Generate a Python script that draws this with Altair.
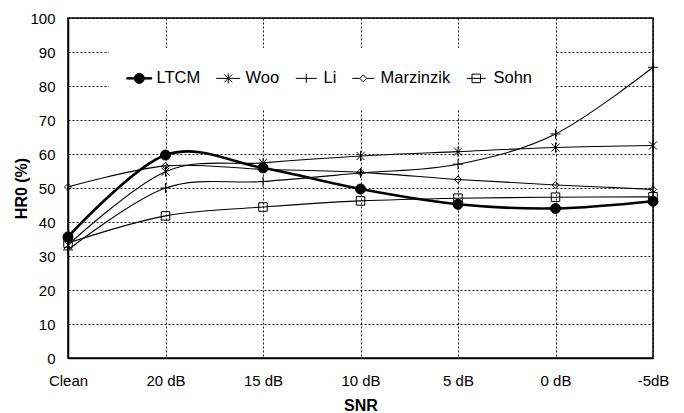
import altair as alt
import pandas as pd

categories = ["Clean", "20 dB", "15 dB", "10 dB", "5 dB", "0 dB", "-5dB"]
series_names = ["LTCM", "Woo", "Li", "Marzinzik", "Sohn"]
ltcm = [35.6, 59.7, 55.9, 49.7, 45.2, 44.0, 46.1]
woo = [33.2, 54.8, 57.4, 59.4, 60.7, 61.9, 62.5]
li = [31.8, 50.0, 51.9, 54.4, 57.0, 65.9, 85.5]
marzinzik = [50.3, 56.5, 55.5, 54.6, 52.5, 50.9, 49.6]
sohn = [33.8, 41.8, 44.4, 46.2, 47.0, 47.3, 47.4]
y_ticks = list(range(0, 101, 10))

values = {"LTCM": ltcm, "Woo": woo, "Li": li, "Marzinzik": marzinzik, "Sohn": sohn}
rows = []
for s in series_names:
    for c, v in zip(categories, values[s]):
        rows.append({"snr": c, "hr0": v, "series": s})
df = pd.DataFrame(rows)

# marker paths (unit = sqrt(size)/2 px)
circle = "M1,0A1,1 0 1 1 -1,0A1,1 0 1 1 1,0Z"
star = "M-0.8,-0.8L0.8,0.8M-0.8,0.8L0.8,-0.8M0,-1L0,1"
plus = "M-1,0L1,0M0,-1L0,1"
diamond = "M0,-0.7L0.7,0L0,0.7L-0.7,0Z"
square = "M-0.85,-0.85H0.85V0.85H-0.85Z"
marker_paths = [circle, star, plus, diamond, square]

# legend symbols: marker with a line segment through it
leg_ltcm = "M-2.5,-0.14H2.5V0.14H-2.5Z" + circle
leg_woo = "M-2.4,0L2.4,0" + star
leg_li = "M-2.1,0L2.1,0M0,-0.9L0,0.9"
leg_marz = "M-2.2,0L-0.7,0M0.7,0L2.2,0" + diamond
leg_sohn = "M-1.9,0L1.9,0" + square
legend_paths = [leg_ltcm, leg_woo, leg_li, leg_marz, leg_sohn]

fills = ["black", "transparent", "transparent", "transparent", "transparent"]
strokes = ["black"] * 5

x_enc = alt.X("snr:N", sort=categories,
              scale=alt.Scale(type="point", padding=0, domain=categories),
              axis=alt.Axis(title="SNR", labelAngle=0, grid=True, ticks=False,
                            labelPadding=15, titlePadding=9))
y_enc = alt.Y("hr0:Q", scale=alt.Scale(domain=[0, 100], nice=False),
              axis=alt.Axis(title="HR0 (%)", values=y_ticks, grid=True, ticks=False,
                            labelPadding=13, titlePadding=0))

lines = alt.Chart(df).mark_line(interpolate="cardinal", tension=0, color="black").encode(
    x=x_enc, y=y_enc,
    detail="series:N",
    strokeWidth=alt.condition(alt.datum.series == "LTCM", alt.value(2.6), alt.value(1.1)),
)

points = alt.Chart(df).mark_point(filled=True, strokeWidth=1, size=100, opacity=1).encode(
    x=x_enc, y=y_enc,
    shape=alt.Shape("series:N", scale=alt.Scale(domain=series_names, range=marker_paths), legend=None),
    fill=alt.Fill("series:N", scale=alt.Scale(domain=series_names, range=fills), legend=None),
    stroke=alt.Stroke("series:N", scale=alt.Scale(domain=series_names, range=strokes), legend=None),
)

leg = alt.Legend(title=None, orient="none", direction="horizontal",
                 legendX=41, legendY=30, padding=22,
                 fillColor="white", labelFontSize=16.5,
                 labelFont="Liberation Sans", labelColor="black",
                 labelOffset=9, columnPadding=13,
                 symbolSize=100, symbolStrokeWidth=1)

legend_layer = alt.Chart(df).transform_filter(alt.datum.hr0 < -1000).mark_point(
    filled=True, strokeWidth=1, size=100, opacity=1).encode(
    x=x_enc, y=y_enc,
    shape=alt.Shape("series:N", scale=alt.Scale(domain=series_names, range=legend_paths), legend=leg),
    fill=alt.Fill("series:N", scale=alt.Scale(domain=series_names, range=fills), legend=leg),
    stroke=alt.Stroke("series:N", scale=alt.Scale(domain=series_names, range=strokes), legend=leg),
)

chart = alt.layer(lines, points, legend_layer).resolve_scale(
    shape="independent", fill="independent", stroke="independent"
).properties(
    width=585, height=340,
    autosize=alt.AutoSizeParams(type="none"),
    padding={"left": 60, "top": 10, "right": 23, "bottom": 55},
).configure_view(
    stroke="black", strokeWidth=1.5
).configure_axis(
    domainColor="black", domainWidth=1.5,
    gridColor="black", gridDash=[2, 2], gridWidth=1, gridOpacity=0.9,
    labelFont="Liberation Sans", labelFontSize=15, labelColor="black",
    titleFont="Liberation Sans", titleFontSize=16, titleFontWeight="bold", titleColor="black",
)

chart.save("out.html", embed_options={"renderer": "svg", "actions": False})
